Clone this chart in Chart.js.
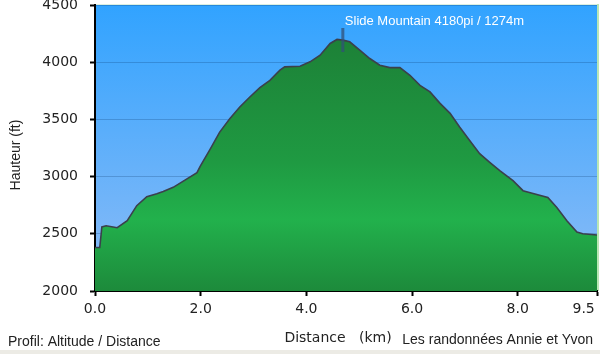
<!DOCTYPE html>
<html>
<head>
<meta charset="utf-8">
<script src="https://cdn.jsdelivr.net/npm/chart.js@4"></script>
<style>
  html, body { margin: 0; padding: 0; background: #ecebe5; }
  #wrap { width: 600px; height: 350px; background: #fff; }
</style>
</head>
<body>
<div id="wrap"><canvas id="profil" width="600" height="350"></canvas></div>
<script>
// === Profil data (distance km / hauteur ft) ===
const distances = [0, 0.09, 0.13, 0.21, 0.42, 0.61, 0.79, 0.98, 1.17, 1.29, 1.48, 1.74, 1.93, 1.99,
  2.18, 2.36, 2.55, 2.74, 2.93, 3.12, 3.31, 3.50, 3.59, 3.88, 4.07, 4.26, 4.45, 4.58, 4.69, 4.82,
  5.01, 5.20, 5.39, 5.58, 5.77, 5.96, 6.15, 6.34, 6.53, 6.72, 6.90, 7.09, 7.28, 7.47, 7.66, 7.91,
  8.10, 8.29, 8.57, 8.74, 8.93, 9.12, 9.23, 9.5];
const hauteurs = [2380, 2380, 2560, 2570, 2553, 2614, 2746, 2825, 2850, 2870, 2906, 2980, 3035, 3090,
  3240, 3389, 3506, 3608, 3696, 3778, 3842, 3930, 3959, 3965, 4003, 4061, 4164, 4199, 4193, 4178,
  4105, 4032, 3974, 3953, 3953, 3886, 3798, 3740, 3640, 3553, 3433, 3316, 3200, 3125, 3053, 2965,
  2877, 2853, 2818, 2730, 2614, 2515, 2500, 2490];
const xTicks = [0, 2, 4, 6, 8, 9.5];
const yTicks = [2000, 2500, 3000, 3500, 4000, 4500];
const sommet = { km: 4.69, label: "Slide Mountain 4180pi / 1274m" };

// gradient helpers
function skyGradient(ctx, area) {
  const g = ctx.createLinearGradient(0, area.top, 0, area.bottom);
  g.addColorStop(0, "#31a3ff");
  g.addColorStop(1, "#8ebcf6");
  return g;
}
function greenGradient(context) {
  const { ctx, chartArea } = context.chart;
  if (!chartArea) return "#22a84a";
  const g = ctx.createLinearGradient(0, chartArea.top, 0, chartArea.bottom);
  g.addColorStop(0, "#1c7a34");
  g.addColorStop(0.55, "#1f9a42");
  g.addColorStop(0.75, "#22b14c");
  g.addColorStop(1, "#1d8a3b");
  return g;
}

const decor = {
  id: "decor",
  beforeDraw(chart) {
    const { ctx, chartArea: a } = chart;
    ctx.save();
    ctx.fillStyle = skyGradient(ctx, a);
    ctx.fillRect(a.left, a.top, a.right - a.left, a.bottom - a.top);
    // light frame top / right
    ctx.fillStyle = "#dcefe0";
    ctx.fillRect(a.left, a.top - 1, a.right - a.left, 1);
    ctx.fillStyle = "#b9e6b4";
    ctx.fillRect(a.right, a.top - 1, 2, a.bottom - a.top + 1);
    ctx.restore();
  },
  afterDraw(chart) {
    const { ctx, scales } = chart;
    ctx.save();
    // peak marker
    const px = scales.x.getPixelForValue(sommet.km);
    ctx.strokeStyle = "rgba(50,80,120,0.75)";
    ctx.lineWidth = 3;
    ctx.beginPath();
    ctx.moveTo(px, 28);
    ctx.lineTo(px, 52);
    ctx.stroke();
    ctx.fillStyle = "#ffffff";
    ctx.font = "13px 'Liberation Sans', Arial, sans-serif";
    ctx.textAlign = "left";
    ctx.textBaseline = "alphabetic";
    ctx.fillText(sommet.label, px + 2, 25);

    // titles and footer texts
    ctx.fillStyle = "#222";
    ctx.font = "14px 'Liberation Sans', Arial, sans-serif";
    ctx.fillText("Profil: Altitude / Distance", 8, 346);
    ctx.textAlign = "right";
    ctx.fillText("Les randonnées Annie et Yvon", 593, 344);
    ctx.textAlign = "center";
    ctx.font = "14px 'DejaVu Sans', Verdana, sans-serif";
    ctx.fillText("Distance   (km)", 338, 342);
    ctx.translate(20, 155);
    ctx.rotate(-Math.PI / 2);
    ctx.font = "14px 'Liberation Sans', Arial, sans-serif";
    ctx.fillText("Hauteur (ft)", 0, 0);
    ctx.restore();
  }
};

new Chart(document.getElementById("profil"), {
  type: "line",
  data: {
    datasets: [{
      data: distances.map((d, i) => ({ x: d, y: hauteurs[i] })),
      borderColor: "#3b404c",
      borderWidth: 1.6,
      backgroundColor: greenGradient,
      fill: "start",
      pointRadius: 0,
      tension: 0
    }]
  },
  options: {
    responsive: false,
    animation: false,
    layout: { padding: { top: 5, right: 3, left: 0, bottom: 0 } },
    plugins: { legend: { display: false }, tooltip: { enabled: false } },
    scales: {
      x: {
        type: "linear",
        min: 0,
        max: 9.5,
        afterBuildTicks: (s) => { s.ticks = xTicks.map(v => ({ value: v })); },
        afterFit: (s) => { s.height = 59; s.paddingLeft = 0; s.paddingRight = 0; },
        grid: { drawOnChartArea: false, tickLength: 5, tickColor: "#000", tickWidth: 2 },
        border: { color: "#000", width: 2 },
        ticks: {
          padding: 5,
          color: "#222",
          maxRotation: 0,
          autoSkip: false,
          font: { family: "'DejaVu Sans', Verdana, sans-serif", size: 14 },
          // last label sits left of its tick, as in the original
          callback: (v) => v === 9.5 ? Number(v).toFixed(1) + "      " : Number(v).toFixed(1)
        }
      },
      y: {
        min: 2000,
        max: 4500,
        z: 1,
        afterBuildTicks: (s) => { s.ticks = yTicks.map(v => ({ value: v })); },
        afterFit: (s) => { s.width = 95; s.paddingTop = 0; s.paddingBottom = 0; },
        grid: { color: "rgba(0,40,90,0.22)", lineWidth: 1, tickLength: 5, tickColor: "#000", tickWidth: 2 },
        border: { color: "#000", width: 2 },
        ticks: {
          padding: 12,
          color: "#222",
          font: { family: "'DejaVu Sans', Verdana, sans-serif", size: 14 },
          callback: (v) => String(v)
        }
      }
    }
  },
  plugins: [decor]
});
</script>
</body>
</html>
